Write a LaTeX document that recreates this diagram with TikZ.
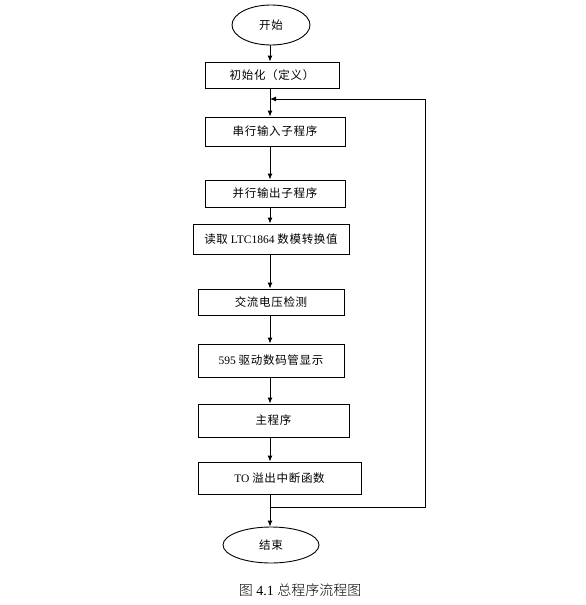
\documentclass[tikz,border=0pt]{standalone}
\usepackage{fontspec}
\setmainfont{Liberation Serif}
\newfontfamily\cjk[LetterSpace=6]{Noto Sans CJK SC}
\newfontfamily\capfont{Noto Sans CJK SC Light}
\usetikzlibrary{shapes.geometric,arrows.meta}

\begin{document}
\begin{tikzpicture}[x=1pt,y=-1pt,
    every node/.style={draw,line width=0.9pt,inner sep=0pt,font=\fontsize{11.5}{13}\selectfont},
    stepbox/.style={rectangle},
    termbox/.style={ellipse},
    arr/.style={line width=0.9pt,-{Latex[length=6pt,width=5pt]}}]

    \useasboundingbox (0,0) rectangle (586,605);

    % spine of the flow
    \coordinate (sp) at (270,0);

    % Start and end
    \node[termbox,minimum width=78pt,minimum height=40pt] (start) at (271,25) {\cjk 开始};
    \node[termbox,minimum width=96pt,minimum height=36pt] (stop) at (271,545) {\cjk 结束};

    % Steps
    \node[stepbox,minimum width=134pt,minimum height=26pt] (init) at (272,75) {\cjk 初始化（定义）};
    \node[stepbox,minimum width=140pt,minimum height=29pt] (serial) at (275,131.5) {\cjk 串行输入子程序};
    \node[stepbox,minimum width=140pt,minimum height=27pt] (para) at (275,193.5) {\cjk 并行输出子程序};
    \node[stepbox,minimum width=156pt,minimum height=30pt] (adc) at (271,239) {{\cjk 读取} LTC1864 {\cjk 数模转换值}};
    \node[stepbox,minimum width=146pt,minimum height=26pt] (ac) at (271,302) {\cjk 交流电压检测};
    \node[stepbox,minimum width=146pt,minimum height=33pt] (disp) at (271,360.5) {595 {\cjk 驱动数码管显示}};
    \node[stepbox,minimum width=151pt,minimum height=33pt] (mainp) at (273.5,420.5) {\cjk 主程序};
    \node[stepbox,minimum width=163pt,minimum height=32pt] (timer) at (279.5,478) {TO {\cjk 溢出中断函数}};

    % Loop corners
    \coordinate (lb) at (425,507);
    \coordinate (lt) at (425,99);

    % Downward arrows
    \foreach \a/\b in {start/init,init/serial,serial/para,para/adc,adc/ac,ac/disp,disp/mainp,mainp/timer,timer/stop} {
      \draw[arr] (\a.south -| sp) -- (\b.north -| sp);
    }

    % Loop back
    \draw[arr] (lb -| sp) -- (lb) -- (lt) -- (lt -| sp);

    % Caption
    \node[draw=none,font=\fontsize{14}{16}\selectfont] (cap) at (300,590) {{\capfont 图} 4.1 {\capfont 总程序流程图}};

  \end{tikzpicture}
\end{document}
